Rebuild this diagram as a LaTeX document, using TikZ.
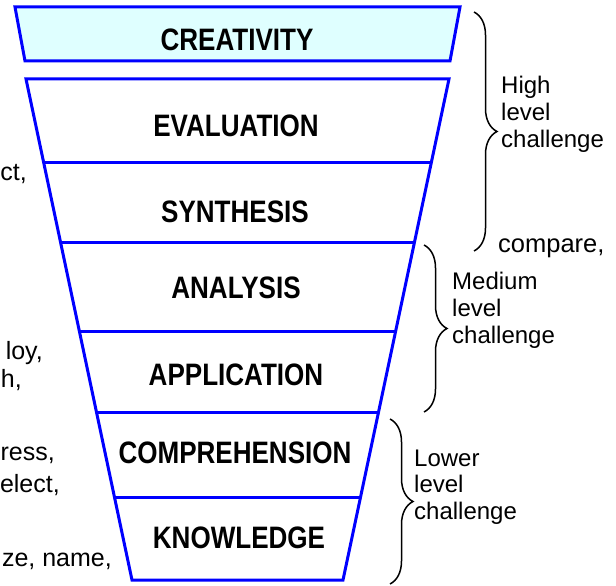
\documentclass[tikz,border=0pt]{standalone}
\usepackage{fontspec}
\setmainfont{Liberation Sans}
\newfontfamily\labfont{Liberation Sans}[FakeStretch=0.84]
\usetikzlibrary{decorations.pathreplacing,calc}
\definecolor{funnelblue}{RGB}{0,0,255}
\definecolor{topfill}{RGB}{223,255,255}
\begin{document}
\begin{tikzpicture}[x=1pt,y=-1pt,
  band/.style={draw=funnelblue,line width=3pt,line join=miter},
  level/.style={font=\labfont\bfseries\fontsize{31}{36}\selectfont, inner sep=0pt, anchor=base},
  note/.style={font=\fontsize{24}{27}\selectfont, inner sep=0pt, anchor=base west},
  frag/.style={font=\fontsize{25}{28}\selectfont, inner sep=0pt, anchor=base east},
  bracedeco/.style={decorate, decoration={brace,amplitude=23pt}, line width=1.5pt}]
\useasboundingbox (0,0) rectangle (616,586);

% top band
\draw[band, fill=topfill] (15,7) -- (460,7) -- (450,61) -- (25,61) -- cycle;

% funnel
\coordinate (tl) at (26,79);
\coordinate (tr) at (449,79);
\coordinate (bl) at (132,580);
\coordinate (br) at (343,580);
\draw[band] (tl) -- (tr) -- (br) -- (bl) -- cycle;
\foreach \f in {0.1657,0.3273,0.503,0.6647,0.8363}
  \draw[band] ($(tl)!\f!(bl)$) -- ($(tr)!\f!(br)$);

% level labels
\node[level] (cre) at (237,51) {CREATIVITY};
\node[level] (eva) at (236,136) {EVALUATION};
\node[level] (syn) at (235,222) {SYNTHESIS};
\node[level] (ana) at (236,298) {ANALYSIS};
\node[level] (app) at (236,385) {APPLICATION};
\node[level] (com) at (235,463) {COMPREHENSION};
\node[level] (kno) at (239,548) {KNOWLEDGE};

% braces
\coordinate (hA) at (474,12);  \coordinate (hB) at (474,251);
\coordinate (mA) at (424,245); \coordinate (mB) at (424,412);
\coordinate (lA) at (390,419); \coordinate (lB) at (390,584);
\draw[bracedeco] (hA) -- (hB);
\draw[bracedeco] (mA) -- (mB);
\draw[bracedeco] (lA) -- (lB);

% right notes
\node[note] (h1) at (501,94) {High};
\node[note] (h2) at (501,120.5) {level};
\node[note] (h3) at (501,147) {challenge};
\node[note, font=\fontsize{25.5}{28}\selectfont] (cmp) at (498,252) {compare,};
\node[note] (m1) at (452,289.5) {Medium};
\node[note] (m2) at (452,316) {level};
\node[note] (m3) at (452,343) {challenge};
\node[note] (l1) at (414,466) {Lower};
\node[note] (l2) at (414,492.5) {level};
\node[note] (l3) at (414,519) {challenge};

% left fragments
\node[frag] (f1) at (27,180) {ct,};
\node[frag] (f2) at (43,359) {loy,};
\node[frag] (f3) at (22,387.5) {h,};
\node[frag] (f4) at (55,460) {ress,};
\node[frag] (f5) at (60,492.5) {elect,};
\node[frag] (f6) at (112,566) {ze, name,};
\end{tikzpicture}
\end{document}
